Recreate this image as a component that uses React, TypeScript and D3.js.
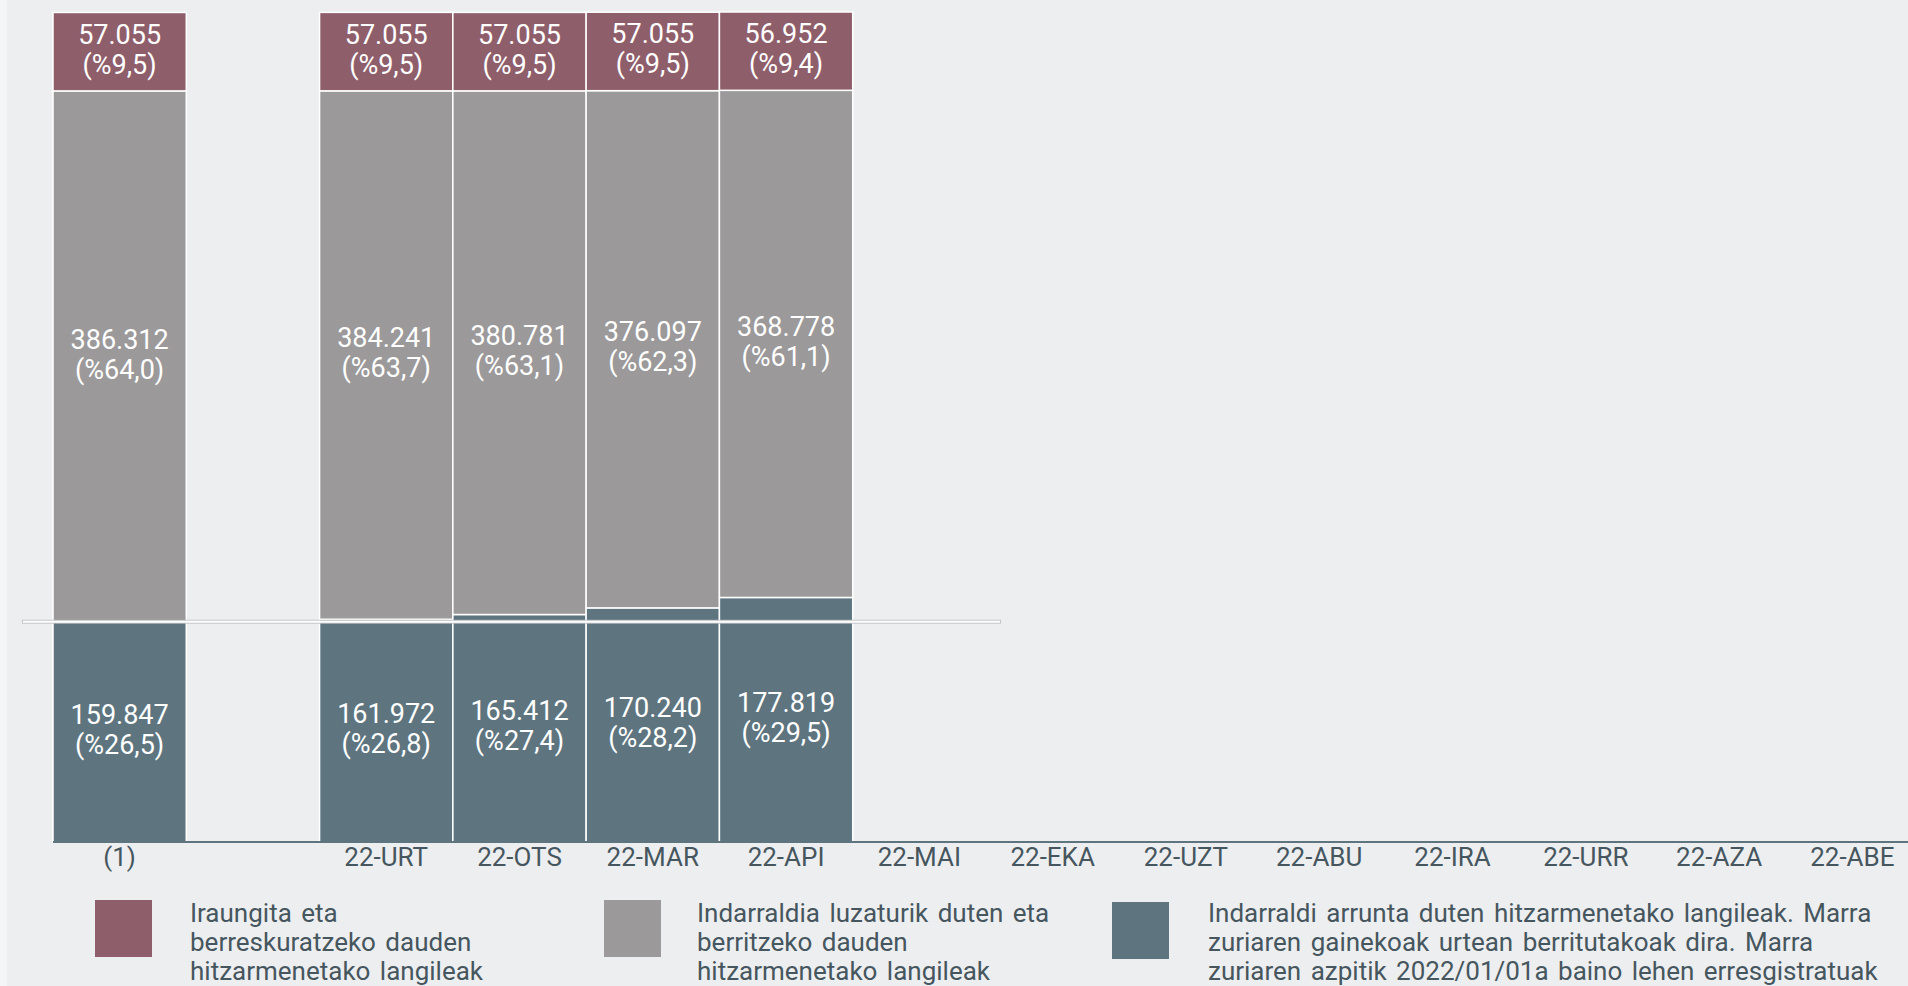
import React from "react";
import * as d3 from "d3";

const categories = ["(1)", "", "22-URT", "22-OTS", "22-MAR", "22-API", "22-MAI", "22-EKA", "22-UZT", "22-ABU", "22-IRA", "22-URR", "22-AZA", "22-ABE"];
const dataCats = ["(1)", "22-URT", "22-OTS", "22-MAR", "22-API"];
const expired = [57055, 57055, 57055, 57055, 56952];
const extended = [386312, 384241, 380781, 376097, 368778];
const ordinary = [159847, 161972, 165412, 170240, 177819];
const baseline = 159847;

const seriesNames = [
  ["Iraungita eta", "berreskuratzeko dauden", "hitzarmenetako langileak"],
  ["Indarraldia luzaturik duten eta", "berritzeko dauden", "hitzarmenetako langileak"],
  [
    "Indarraldi arrunta duten hitzarmenetako langileak. Marra",
    "zuriaren gainekoak urtean berritutakoak dira. Marra",
    "zuriaren azpitik 2022/01/01a baino lehen erresgistratuak",
  ],
];
const colors = ["#8f5e6b", "#9b999a", "#5e7580"];
const textColor = "#46565e";
const font = "Roboto, 'Noto Sans', sans-serif";

const W = 1908;
const H = 986;

const fmtInt = (v: number) => d3.format(",")(v).replace(/,/g, ".");
const fmtPct = (v: number) => "(%" + d3.format(".1f")(v).replace(".", ",") + ")";

export default function App() {
  const totals = dataCats.map((_, i) => expired[i] + extended[i] + ordinary[i]);
  const x = d3.scaleBand<string>().domain(categories).range([53, 1919]).padding(0);
  const y = d3.scaleLinear().domain([0, d3.max(totals) as number]).range([842, 12]);
  const step = x.step();

  const rows = dataCats.map((c, i) => {
    const segs = [
      { v: ordinary[i], y0: 0, y1: ordinary[i], color: colors[2] },
      { v: extended[i], y0: ordinary[i], y1: ordinary[i] + extended[i], color: colors[1] },
      { v: expired[i], y0: ordinary[i] + extended[i], y1: totals[i], color: colors[0] },
    ];
    return { c, segs, total: totals[i] };
  });

  const lineY = y(baseline);
  const lineX1 = (x(dataCats[0]) as number) - 0.23 * step;
  const lineX2 = (x(dataCats[dataCats.length - 1]) as number) + 2.11 * step;

  const legendX = [95, 604, 1112];
  const legendTextX = [190, 697, 1208];
  const legendY = [900, 900, 902];

  return (
    <svg width={W} height={H} style={{ position: "absolute", left: 0, top: 0, display: "block" }} fontFamily={font}>
      <rect x={0} y={0} width={W} height={H} fill="#f4f5f6" />
      <rect x={7} y={0} width={W - 7} height={H} fill="#edeef0" />
      {rows.map((r) => (
        <g key={r.c}>
          {r.segs.map((s, j) => {
            const x0 = x(r.c) as number;
            const top = y(s.y1);
            const bot = y(s.y0);
            const cy = (top + bot) / 2;
            const cx = x0 + step / 2;
            return (
              <g key={j}>
                <rect x={x0} y={top} width={step} height={bot - top} fill={s.color} stroke="#ffffff" strokeWidth={1.5} />
                <text x={cx} y={cy - 8} textAnchor="middle" fill="#ffffff" fontSize={27}>
                  {fmtInt(s.v)}
                </text>
                <text x={cx} y={cy + 22} textAnchor="middle" fill="#ffffff" fontSize={27}>
                  {fmtPct((s.v / r.total) * 100)}
                </text>
              </g>
            );
          })}
        </g>
      ))}
      <rect x={lineX1} y={lineY - 2} width={lineX2 - lineX1} height={3} fill="#ffffff" stroke="#b9bbbd" strokeWidth={0.8} />
      <line x1={53} x2={W} y1={842} y2={842} stroke="#5e7580" strokeWidth={2} />
      {categories.map((c) =>
        c ? (
          <text key={c} x={(x(c) as number) + step / 2} y={866} textAnchor="middle" fill={textColor} fontSize={26}>
            {c}
          </text>
        ) : null
      )}
      {seriesNames.map((lines, i) => (
        <g key={i}>
          <rect x={legendX[i]} y={legendY[i]} width={57} height={57} fill={colors[i]} />
          {lines.map((t, k) => (
            <text key={k} x={legendTextX[i]} y={922 + k * 29} fill={textColor} fontSize={26} wordSpacing={3}>
              {t}
            </text>
          ))}
        </g>
      ))}
    </svg>
  );
}
